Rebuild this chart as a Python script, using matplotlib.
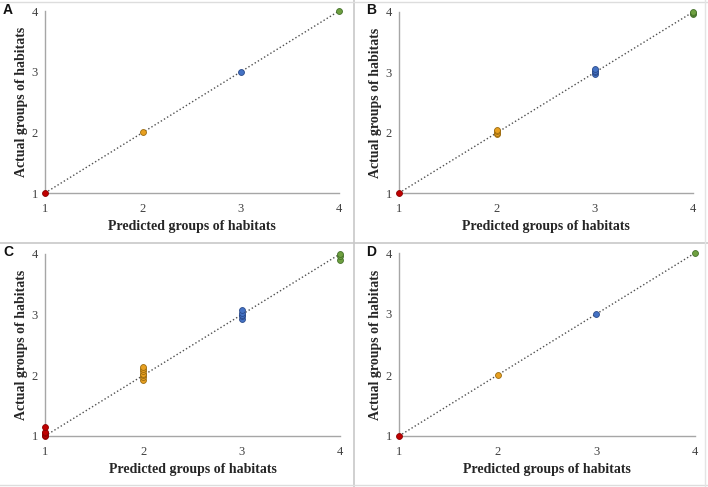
import matplotlib
matplotlib.use("Agg")
import matplotlib.pyplot as plt
from matplotlib.lines import Line2D

# ---- data ----
groups = [1, 2, 3, 4]
tick_labels = ["1", "2", "3", "4"]
colors = ["#c00000", "#e8a020", "#4472c4", "#6ea040"]
edge_colors = ["#8a0000", "#9a6a10", "#2a4a8a", "#44702a"]

panel_A = {1: [1.0], 2: [2.0], 3: [3.0], 4: [4.0]}
panel_B = {1: [1.0], 2: [1.98, 2.0, 2.03, 2.05], 3: [2.97, 3.0, 3.03, 3.05], 4: [3.97, 3.99, 4.0]}
panel_C = {1: [1.0, 1.02, 1.05, 1.07, 1.15], 2: [1.93, 1.97, 2.0, 2.03, 2.07, 2.1, 2.13],
           3: [2.93, 2.97, 3.0, 3.03, 3.07], 4: [3.9, 3.97, 4.0]}
panel_D = {1: [1.0], 2: [2.0], 3: [3.0], 4: [4.0]}
panels = [("A", panel_A), ("B", panel_B), ("C", panel_C), ("D", panel_D)]

W, H = 708, 487
fig = plt.figure(figsize=(W / 100, H / 100), dpi=100)

# axes boxes in pixels: left, right, top, bottom
boxes = [(45, 339, 11, 193), (399, 693, 12, 193), (45, 340, 254, 436), (399, 695, 253, 436)]
letter_pos = [(3, 3), (366, 3), (3, 245), (366, 245)]

for (letter, data), (l, r, t, b), (lx, ly) in zip(panels, boxes, letter_pos):
    ax = fig.add_axes([l / W, 1 - b / H, (r - l) / W, (b - t) / H])
    ax.set_xlim(1, 4)
    ax.set_ylim(1, 4)
    ax.plot(groups, groups, linestyle=":", color="#505050", linewidth=1.0, zorder=2)
    for g, c, ec in zip(groups, colors, edge_colors):
        ys = data[g]
        ax.scatter([g] * len(ys), ys, s=18, color=c, edgecolors=ec, linewidths=0.6,
                   zorder=3, clip_on=False)
    for s in ["top", "right"]:
        ax.spines[s].set_visible(False)
    for s in ["left", "bottom"]:
        ax.spines[s].set_color("#a6a6a6")
        ax.spines[s].set_linewidth(1.0)
    ax.set_xticks(groups)
    ax.set_xticklabels(tick_labels)
    ax.set_yticks(groups)
    ax.set_yticklabels(tick_labels)
    ax.tick_params(axis="x", length=0, labelsize=9, colors="#404040", pad=7)
    ax.tick_params(axis="y", length=0, labelsize=9, colors="#404040", pad=5)
    for lab in ax.get_xticklabels() + ax.get_yticklabels():
        lab.set_family("Liberation Serif")
    ax.set_xlabel("Predicted groups of habitats", family="Liberation Serif",
                  fontweight="bold", fontsize=10, color="#262626", labelpad=4)
    ax.set_ylabel("Actual groups of habitats", family="Liberation Serif",
                  fontweight="bold", fontsize=10, color="#262626", labelpad=3)
    fig.text(lx / W, 1 - ly / H, letter, family="Liberation Sans", fontweight="bold",
             fontsize=10, va="top", ha="left", color="#111111")

# panel borders
fig.add_artist(Line2D([354 / W, 354 / W], [0, 1], color="#c8c8c8", linewidth=1.2))
fig.add_artist(Line2D([0, 1], [1 - 243 / H, 1 - 243 / H], color="#c8c8c8", linewidth=1.2))
fig.add_artist(Line2D([0, 1], [1 - 1.5 / H, 1 - 1.5 / H], color="#dddddd", linewidth=1.0))
fig.add_artist(Line2D([0, 1], [1 - 485 / H, 1 - 485 / H], color="#dddddd", linewidth=1.0))
fig.add_artist(Line2D([705 / W, 705 / W], [0, 1], color="#e4e4e4", linewidth=1.0))

fig.savefig("out.png", dpi=100)
